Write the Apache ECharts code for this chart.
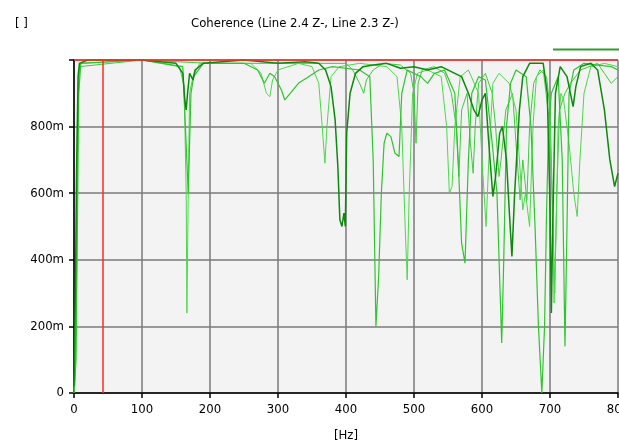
<!DOCTYPE html>
<html>
<head>
<meta charset="utf-8">
<script src="https://cdn.jsdelivr.net/npm/echarts@6/dist/echarts.min.js"></script>
<style>
  html, body { margin: 0; padding: 0; background: #fff; }
  #chart { width: 619px; height: 448px; }
</style>
</head>
<body>
<div id="chart"></div>
<script>
// coherence curves, [Hz, value]
var cohDark = [[0,0.02],[2,0.3],[4,0.7],[6,0.95],[8,0.99],[20,1],[100,1],[150,0.99],[160,0.96],[163,0.88],[165,0.85],[167,0.9],[170,0.96],[175,0.94],[178,0.97],[190,0.99],[250,1],[300,0.99],[340,0.995],[360,0.99],[370,0.97],[378,0.92],[384,0.82],[388,0.68],[391,0.52],[394,0.5],[397,0.54],[399,0.5],[401,0.78],[406,0.9],[414,0.96],[425,0.98],[440,0.985],[460,0.99],[480,0.975],[500,0.98],[520,0.97],[540,0.98],[560,0.96],[570,0.95],[580,0.9],[588,0.85],[594,0.83],[600,0.88],[605,0.9],[610,0.75],[616,0.59],[620,0.65],[626,0.78],[630,0.8],[636,0.7],[640,0.55],[644,0.41],[648,0.6],[655,0.85],[660,0.95],[670,0.99],[690,0.99],[696,0.9],[700,0.56],[702,0.24],[704,0.5],[708,0.9],[715,0.98],[725,0.95],[730,0.9],[734,0.86],[738,0.92],[745,0.98],[760,0.99],[770,0.97],[780,0.85],[788,0.7],[795,0.62],[800,0.66]];
var cohMid = [[0,0],[3,0.1],[5,0.5],[7,0.9],[10,0.99],[100,1],[160,0.98],[168,0.6],[170,0.6],[172,0.9],[176,0.95],[190,0.99],[250,0.99],[270,0.97],[280,0.93],[288,0.96],[295,0.95],[305,0.91],[310,0.88],[318,0.9],[330,0.93],[345,0.95],[360,0.97],[380,0.98],[420,0.97],[435,0.95],[440,0.7],[444,0.2],[448,0.35],[452,0.6],[456,0.75],[460,0.78],[466,0.77],[472,0.72],[478,0.71],[482,0.9],[490,0.97],[510,0.95],[520,0.93],[530,0.96],[545,0.97],[560,0.9],[565,0.7],[570,0.45],[575,0.39],[580,0.7],[585,0.9],[595,0.95],[605,0.94],[615,0.75],[622,0.6],[629,0.15],[632,0.4],[636,0.8],[642,0.93],[650,0.97],[665,0.95],[672,0.8],[678,0.5],[683,0.2],[688,0.0],[692,0.2],[695,0.55],[698,0.8],[702,0.9],[712,0.95],[718,0.7],[722,0.14],[725,0.5],[728,0.9],[735,0.97],[750,0.99],[790,0.98],[800,0.97]];
var cohLight = [[0,0],[2,0.05],[4,0.4],[6,0.92],[9,0.99],[100,1],[155,0.98],[162,0.92],[165,0.6],[166,0.24],[168,0.6],[170,0.9],[175,0.95],[185,0.99],[260,0.99],[275,0.96],[283,0.9],[288,0.89],[292,0.94],[300,0.97],[330,0.99],[350,0.98],[360,0.93],[365,0.8],[369,0.69],[372,0.8],[378,0.95],[390,0.98],[420,0.99],[460,0.98],[475,0.95],[482,0.8],[487,0.5],[490,0.34],[493,0.6],[498,0.9],[505,0.96],[520,0.97],[540,0.95],[548,0.8],[552,0.6],[556,0.62],[560,0.8],[568,0.95],[580,0.97],[595,0.9],[600,0.7],[606,0.5],[610,0.7],[616,0.93],[625,0.96],[640,0.93],[650,0.85],[655,0.7],[660,0.55],[664,0.6],[670,0.5],[675,0.8],[680,0.95],[690,0.97],[700,0.8],[704,0.5],[706,0.27],[709,0.5],[712,0.8],[716,0.9],[720,0.88],[728,0.75],[735,0.6],[740,0.53],[744,0.7],[750,0.9],[760,0.98],[780,0.99],[800,0.98]];
var cohFourth = [[0,0.01],[3,0.2],[5,0.8],[8,0.98],[100,1],[200,0.99],[300,0.99],[400,0.99],[410,0.97],[420,0.93],[426,0.9],[430,0.94],[440,0.97],[455,0.99],[480,0.985],[495,0.96],[500,0.9],[503,0.75],[506,0.93],[512,0.97],[530,0.98],[545,0.96],[555,0.9],[562,0.8],[566,0.65],[570,0.85],[578,0.9],[583,0.75],[587,0.66],[590,0.8],[595,0.93],[605,0.96],[615,0.9],[620,0.8],[625,0.65],[628,0.7],[635,0.85],[645,0.9],[650,0.75],[656,0.58],[660,0.7],[666,0.58],[670,0.8],[676,0.93],[685,0.97],[695,0.95],[700,0.85],[704,0.55],[707,0.3],[710,0.6],[714,0.85],[722,0.9],[730,0.93],[745,0.97],[770,0.99],[780,0.96],[790,0.93],[800,0.95]];

// cursor lines
var cursorHz = 42.6;
var cursorLevel = 1;

var yTicks = ['0', '200m', '400m', '600m', '800m', ''];

var font = "'Liberation Sans Narrow', 'DejaVu Sans Condensed', sans-serif";

var chart = echarts.init(document.getElementById('chart'));

function curve(name, data, color, width) {
	return {
		name: name,
		type: 'line',
		data: data,
		showSymbol: false,
		symbol: 'none',
		sampling: 'none',
		animation: false,
		lineStyle: { color: color, width: width },
		itemStyle: { color: color }
	};
}

var series = [
	curve('Line 2.3 Z-', cohFourth, '#3ccc3c', 1),
	curve('Line 2.4 Z- b', cohLight, '#4cd84c', 1),
	curve('Line 2.4 Z-', cohMid, '#2fc42f', 1.2),
	curve('Coherence', cohDark, '#0c8a0c', 1.5)
];
series.push({
	name: 'cursor',
	type: 'line',
	data: [],
	markLine: {
		silent: true,
		symbol: 'none',
		animation: false,
		label: { show: false },
		lineStyle: { color: '#ff2a2a', width: 1.5, type: 'solid' },
		data: [{ xAxis: cursorHz }, { yAxis: cursorLevel }]
	}
});

var option = {
	backgroundColor: '#ffffff',
	animation: false,
	title: [{
		text: 'Coherence (Line 2.4 Z-, Line 2.3 Z-)',
		left: 186,
		top: 12,
		textStyle: { fontFamily: font, fontSize: 13, fontWeight: 'normal', color: '#000' }
	}, {
		text: '[ ]',
		left: 10,
		top: 12,
		textStyle: { fontFamily: font, fontSize: 13, fontWeight: 'normal', color: '#000' }
	}],
	legend: {
		data: ['Coherence'],
		left: 548,
		top: 38,
		itemWidth: 72,
		itemHeight: 10,
		icon: 'path://M0,4 L72,4 L72,6 L0,6 Z',
		itemStyle: { color: '#2e9e2e' },
		textStyle: { fontFamily: font, fontSize: 13, color: '#000' }
	},
	grid: {
		left: 74,
		right: 1,
		top: 60,
		bottom: 55,
		outerBoundsMode: 'none',
		containLabel: false,
		show: true,
		backgroundColor: '#f3f3f3',
		borderWidth: 0
	},
	xAxis: {
		type: 'value',
		min: 0,
		max: 800,
		interval: 100,
		name: '[Hz]',
		nameLocation: 'middle',
		nameGap: 36,
		nameTextStyle: { fontFamily: font, fontSize: 13, color: '#000' },
		axisLine: { show: true, onZero: false, lineStyle: { color: '#000', width: 1.5 } },
		axisTick: { show: true, length: 5, lineStyle: { color: '#000', width: 1.5 } },
		axisLabel: { fontFamily: font, fontSize: 13, color: '#000', margin: 10 },
		splitLine: { show: true, lineStyle: { color: '#7a7a7a', width: 1.5 } }
	},
	yAxis: {
		type: 'value',
		min: 0,
		max: 1,
		interval: 0.2,
		axisLine: { show: true, lineStyle: { color: '#000', width: 1.5 } },
		axisTick: { show: true, length: 5, lineStyle: { color: '#000', width: 1.5 } },
		axisLabel: {
			fontFamily: font, fontSize: 13, color: '#000', margin: 10,
			formatter: function (v) { return yTicks[Math.round(v * 5)]; }
		},
		splitLine: { show: true, lineStyle: { color: '#7a7a7a', width: 1.5 } }
	},
	series: series
};

chart.setOption(option);
</script>
</body>
</html>
